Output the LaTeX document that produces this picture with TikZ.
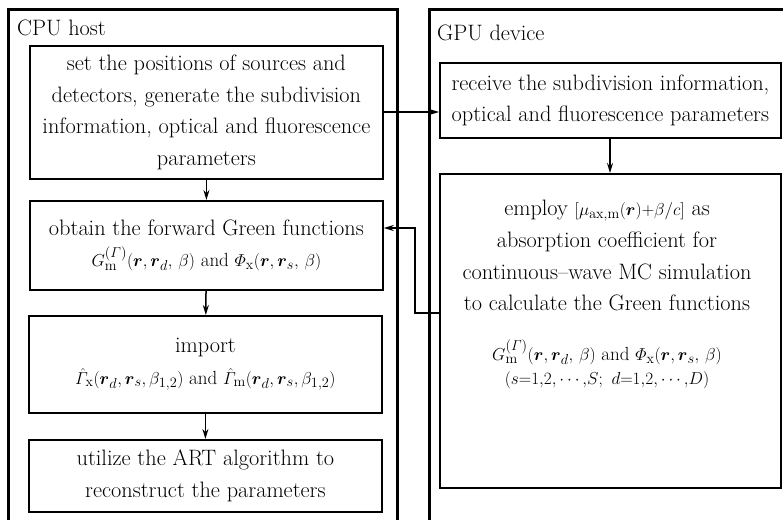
\documentclass[tikz,border=0pt]{standalone}
\usepackage{amsmath}
\usepackage{amssymb}
\usetikzlibrary{arrows.meta}
\newcommand{\eqsize}{\fontsize{19}{31.7}\selectfont}

\begin{document}
\begin{tikzpicture}[x = 1pt, y = -1pt,
    every node/.style = {font = \fontsize{22.3}{31.7}\selectfont},
    stepbox/.style = {draw = black, line width = 1.8pt, anchor = north west, align = center, inner sep = 0pt},
    frame/.style = {draw = black, line width = 3pt},
    flow/.style = {line width = 1.5pt, -{Stealth[length = 10pt, width = 6pt]}}]
    \useasboundingbox (0,0) rectangle (783,519);
    % the two outer frames run off the page
    \begin{scope}
        \clip (0,0) rectangle (783,519);
        \draw[frame] (8,10) rectangle (397,540);
        \draw[frame] (429,10) rectangle (800,540);
    \end{scope}
    \node[anchor = west, inner sep = 0pt] (cpu) at (17,28) {CPU host};
    \node[anchor = west, inner sep = 0pt] (gpu) at (437,33) {GPU device};
    % CPU side
    \node[stepbox, minimum width = 353pt, minimum height = 133pt] (setpos) at (29,45)
        {set the positions of sources and\\ detectors, generate the subdivision\\ information, optical and fluorescence\\ parameters};
    \node[stepbox, minimum width = 353pt, minimum height = 89pt] (obtain) at (29,200)
        {obtain the forward Green functions\\ {\eqsize $G^{(\varGamma)}_{\mathrm{m}}(\boldsymbol{r},\boldsymbol{r}_{d},\,\beta)$ and $\varPhi_{\mathrm{x}}(\boldsymbol{r},\boldsymbol{r}_{s},\,\beta)$}};
    \node[stepbox, minimum width = 353pt, minimum height = 97pt] (import) at (28,315)
        {import\\ {\eqsize $\hat{\varGamma}_{\mathrm{x}}(\boldsymbol{r}_{d},\boldsymbol{r}_{s},\beta_{1,2})$ and $\hat{\varGamma}_{\mathrm{m}}(\boldsymbol{r}_{d},\boldsymbol{r}_{s},\beta_{1,2})$}};
    \node[stepbox, minimum width = 353pt, minimum height = 72pt] (art) at (28,439)
        {utilize the ART algorithm to\\ reconstruct the parameters};
    % GPU side
    \node[stepbox, minimum width = 341pt, minimum height = 75pt] (receive) at (439,62)
        {receive the subdivision information,\\ optical and fluorescence parameters};
    \node[stepbox, minimum width = 341pt, minimum height = 314pt] (employ) at (439,173) {};
    \node[anchor = north, align = center, inner sep = 0pt] (employtxt) at (607,200)
        {employ {\eqsize $[\mu_{\mathrm{ax,m}}(\boldsymbol{r}){+}\beta/c]$} as\\ absorption coefficient for\\ continuous--wave MC simulation\\ to calculate the Green functions\\[18pt]
        {\eqsize $G^{(\varGamma)}_{\mathrm{m}}(\boldsymbol{r},\boldsymbol{r}_{d},\,\beta)$ and $\varPhi_{\mathrm{x}}(\boldsymbol{r},\boldsymbol{r}_{s},\,\beta)$}\\[-8pt]
        {\eqsize $(s{=}1{,}2{,}\cdots{,}S;\ d{=}1{,}2{,}\cdots{,}D)$}};
    % connectors
    \coordinate (out) at (382,112);
    \coordinate (bendlow) at (415,313);
    \coordinate (bendhigh) at (415,228);
    \draw[flow] (setpos) -- (obtain);
    \draw[flow] (obtain) -- (import);
    \draw[flow] (import) -- (art);
    \draw[flow] (receive.south -| 610,0) -- (employ.north -| 610,0);
    \draw[flow, line width = 2.2pt] (out) -- (out -| receive.west);
    \draw[flow, line width = 2.6pt] (bendlow -| employ.west) -- (bendlow) -- (bendhigh) -- (bendhigh -| obtain.east);
\end{tikzpicture}
\end{document}
